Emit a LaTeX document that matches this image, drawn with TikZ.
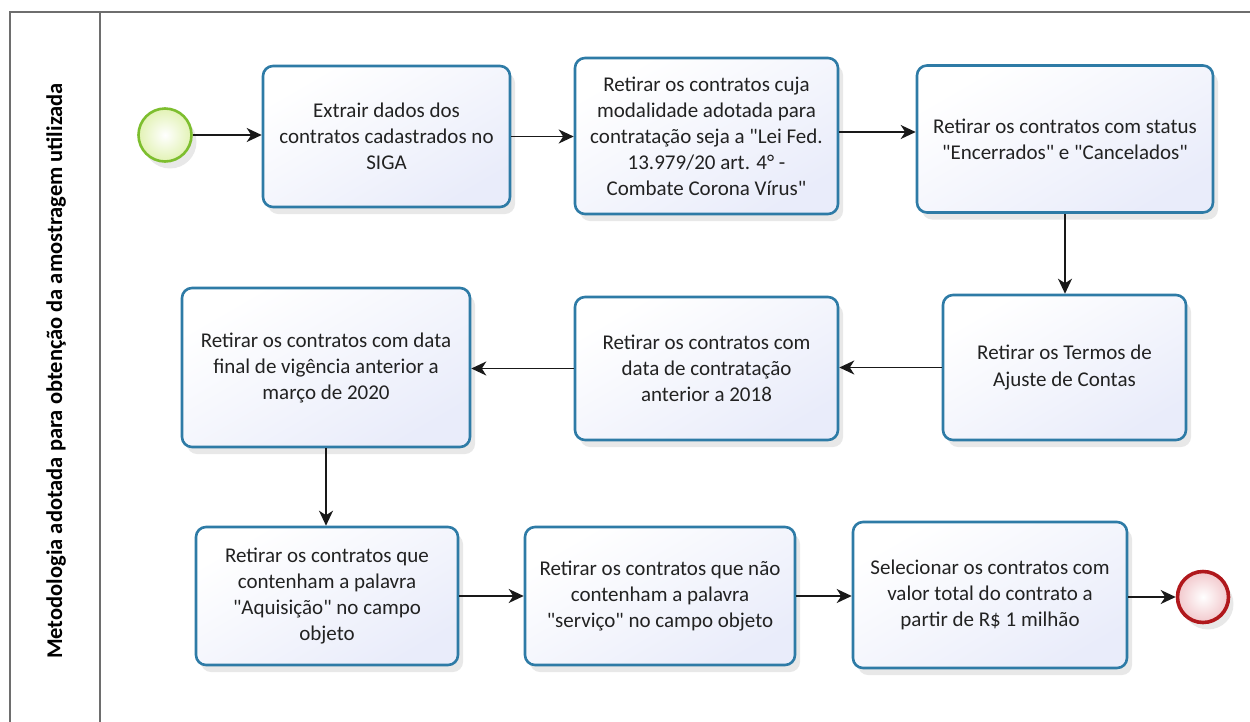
\documentclass[tikz,border=0pt]{standalone}
\usepackage{fontspec}
\setmainfont{Carlito}[Ligatures=TeXOff]
\usetikzlibrary{arrows.meta,shadows}
\definecolor{boxborder}{HTML}{2E7BA6}
\definecolor{boxfill}{HTML}{E9ECFA}
\definecolor{startborder}{HTML}{7DBE2E}
\definecolor{startfill}{HTML}{E2F2B4}
\definecolor{endborder}{HTML}{B0181C}
\definecolor{endfill}{HTML}{F2C8CC}
\definecolor{txt}{HTML}{222222}
\definecolor{frame}{HTML}{6E6E6E}
\tikzset{
  task/.style={draw=boxborder, line width=2.6pt, rounded corners=10pt,
    top color=white, bottom color=boxfill, shading angle=30,
    align=center, text=txt, inner sep=0pt,
    font=\fontsize{21}{26}\selectfont,
    drop shadow={opacity=0.18, shadow xshift=5pt, shadow yshift=-7pt}},
  startev/.style={circle, draw=startborder, line width=2.6pt, inner sep=0pt,
    minimum size=53pt, inner color=white, outer color=startfill,
    drop shadow={opacity=0.18, shadow xshift=5pt, shadow yshift=-7pt}},
  endev/.style={circle, draw=endborder, line width=3.6pt, inner sep=0pt,
    minimum size=51pt, inner color=white, outer color=endfill,
    drop shadow={opacity=0.18, shadow xshift=5pt, shadow yshift=-7pt}},
  flow/.style={draw=black!90, line width=1.6pt, -{Stealth[length=15pt,width=14pt,inset=4.5pt]}},
  lane/.style={draw=frame, line width=1.4pt},
  lanetitle/.style={font=\fontsize{22.5}{26}\bfseries\selectfont, text=black, rotate=90, inner sep=0pt}
}
\begin{document}
\begin{tikzpicture}[x=1pt,y=-1pt]
\useasboundingbox (0,0) rectangle (1250,721);
% pool frame
\draw[lane, line width=2.4pt] (10,725) -- (10,12) -- (1255,12);
\draw[lane] (100,12) -- (100,725);
\node[lanetitle] (title) at (56,371) {Metodologia adotada para obtenção da amostragem utilizada};
% events
\node[startev] (start) at (165,135) {};
\node[endev] (end) at (1203,597) {};
% tasks
\node[task, minimum width=247pt, minimum height=141pt] (b1) at (386.5,136.5)
  {Extrair dados dos\\contratos cadastrados no\\SIGA};
\node[task, minimum width=263pt, minimum height=156pt] (b2) at (706.5,136)
  {Retirar os contratos cuja\\modalidade adotada para\\contratação seja a "Lei Fed.\\13.979/20 art. 4° -\\Combate Corona Vírus"};
\node[task, minimum width=296pt, minimum height=147pt] (b3) at (1065,139)
  {Retirar os contratos com status\\"Encerrados" e "Cancelados"};
\node[task, minimum width=243pt, minimum height=145pt] (b4) at (1064.5,367.5)
  {Retirar os Termos de\\Ajuste de Contas};
\node[task, minimum width=263pt, minimum height=143pt] (b5) at (706.5,368.5)
  {Retirar os contratos com\\data de contratação\\anterior a 2018};
\node[task, minimum width=288pt, minimum height=159pt] (b6) at (326,367.5)
  {Retirar os contratos com data\\final de vigência anterior a\\março de 2020};
\node[task, minimum width=262pt, minimum height=138pt] (b7) at (327,596)
  {Retirar os contratos que\\contenham a palavra\\"Aquisição" no campo\\objeto};
\node[task, minimum width=270pt, minimum height=138pt] (b8) at (660,596)
  {Retirar os contratos que não\\contenham a palavra\\"serviço" no campo objeto};
\node[task, minimum width=274pt, minimum height=146pt] (b9) at (990,595)
  {Selecionar os contratos com\\valor total do contrato a\\partir de R\$ 1 milhão};
% flows
\draw[flow] (start) -- (start -| b1.west);
\draw[flow] (b1.east) -- (b1.east -| b2.west);
\draw[flow] (b2.east |- 0,132) -- (b3.west |- 0,132);
\draw[flow] (b3.south) -- (b3.south |- b4.north);
\draw[flow] (b4.west) -- (b4.west -| b5.east);
\draw[flow] (b5.west) -- (b5.west -| b6.east);
\draw[flow] (b6.south) -- (b6.south |- b7.north);
\draw[flow] (b7.east) -- (b7.east -| b8.west);
\draw[flow] (b8.east) -- (b8.east -| b9.west);
\draw[flow] (b9.east |- end) -- (end);
\end{tikzpicture}
\end{document}
